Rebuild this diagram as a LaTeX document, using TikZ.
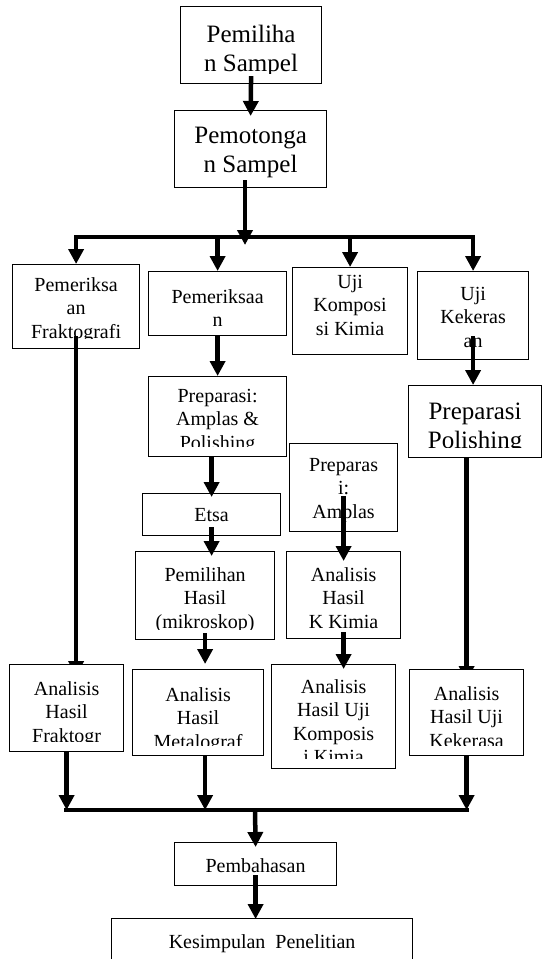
\documentclass[tikz,border=0pt]{standalone}
\usepackage{fontspec}
\setmainfont{Liberation Serif}
\usetikzlibrary{arrows.meta}
\pgfdeclarelayer{front}
\pgfsetlayers{main,front}

\begin{document}
\begin{tikzpicture}[x = 1pt, y = -1pt,
        box/.style = {draw, fill = white, line width = 1.2pt, inner sep = 0pt, anchor = north west},
        big/.style = {font = \fontsize{25}{29}\selectfont},
        small/.style = {font = \fontsize{20}{23.5}\selectfont},
        boxtext/.style n args = {3}{path picture = {
            \clip ([yshift = 10pt]path picture bounding box.south west) rectangle (path picture bounding box.north east);
            \node[#1, anchor = north, align = center, inner sep = 0pt, minimum width = 0pt, minimum height = 0pt]
                at ([yshift = -#2pt]path picture bounding box.north) {#3};}},
        arr/.style = {line width = 4.5pt, -{Triangle[width = 15pt, length = 15pt]}},
        bar/.style = {line width = 4.5pt, line cap = rect}]
            \useasboundingbox (0,0) rectangle (542,959);
            \clip (0,0) rectangle (542,959);

            % top
            \node[box, minimum width = 141pt, minimum height = 77pt, boxtext = {big}{18}{Pemiliha\\n Sampel}] (pilih) at (180,6) {};
            \node[box, minimum width = 152pt, minimum height = 77pt, boxtext = {big}{16}{Pemotonga\\n Sampel}] (potong) at (174,110) {};
            \coordinate (split) at (245,237);

            % four branches
            \node[box, minimum width = 127pt, minimum height = 84pt, boxtext = {small}{12}{Pemeriksa\\an\\Fraktografi}] (frakto) at (12,264) {};
            \node[box, minimum width = 138pt, minimum height = 64pt, boxtext = {small}{17}{Pemeriksaa\\n}] (periksa) at (148,271) {};
            \node[box, minimum width = 115pt, minimum height = 87pt, boxtext = {small}{7}{Uji\\Komposi\\si Kimia}] (komp) at (292,267) {};
            \node[box, minimum width = 111pt, minimum height = 88pt, boxtext = {small}{15}{Uji\\Kekeras\\an}] (keras) at (417,271) {};

            \node[box, minimum width = 138pt, minimum height = 80pt, boxtext = {small}{12}{Preparasi:\\Amplas \&\\Polishing}] (prepap) at (148,376) {};
            \node[box, minimum width = 133pt, minimum height = 72pt, boxtext = {big}{17}{Preparasi\\Polishing}] (preppol) at (408,385) {};
            \node[box, minimum width = 138pt, minimum height = 42pt, boxtext = {small}{14}{Etsa}] (etsa) at (142,493) {};
            \node[box, minimum width = 139pt, minimum height = 88pt, boxtext = {small}{15}{Pemilihan\\Hasil\\(mikroskop)}] (pilihhasil) at (135,551) {};
            \node[box, minimum width = 108pt, minimum height = 88pt, boxtext = {small}{14}{Preparas\\i:\\Amplas}] (prepaml) at (289,443) {};
            \node[box, minimum width = 114pt, minimum height = 87pt, boxtext = {small}{15}{Analisis\\Hasil\\K Kimia}] (kkimia) at (286,551) {};

            % analysis
            \begin{pgfonlayer}{front}
                \node[box, minimum width = 114pt, minimum height = 87pt, boxtext = {small}{16}{Analisis\\Hasil\\Fraktogr}] (anafrakto) at (9,664) {};
                \node[box, minimum width = 114pt, minimum height = 86pt, boxtext = {small}{16}{Analisis\\Hasil Uji\\Kekerasa}] (anakeras) at (409,669) {};
            \end{pgfonlayer}
            \node[box, minimum width = 131pt, minimum height = 86pt, boxtext = {small}{17}{Analisis\\Hasil\\Metalograf}] (anameta) at (132,669) {};
            \node[box, minimum width = 124pt, minimum height = 104pt, boxtext = {small}{14}{Analisis\\Hasil Uji\\Komposis\\i Kimia}] (anakomp) at (271,664) {};
            \coordinate (join) at (255,810);

            \node[box, minimum width = 162pt, minimum height = 43pt, boxtext = {small}{15}{Pembahasan}] (bahas) at (174,842) {};
            \node[box, minimum width = 301pt, minimum height = 60pt, boxtext = {small}{15}{Kesimpulan~~Penelitian}] (simpul) at (111,918) {};

            % connectors
            \draw[arr] ([yshift = 8pt]pilih.south) -- ([yshift = -6pt]potong.north);
            \draw[arr] ([yshift = 8pt]potong.south -| split) -- ([yshift = -8pt]split);
            \draw[bar] (frakto.north |- split) -- (keras.north |- split);
            \draw[arr] (frakto.north |- split) -- (frakto.north);
            \draw[arr] (periksa.north |- split) -- (periksa.north);
            \draw[arr] (komp.north |- split) -- (komp.north);
            \draw[arr] (keras.north |- split) -- (keras.north);

            \draw[arr] ([yshift = 13pt]frakto.south) -- ([yshift = -12pt]frakto.south |- anafrakto.north);
            \draw[arr] (periksa.south) -- (periksa.south |- prepap.north);
            \draw[arr] ([yshift = 24pt]keras.south) -- (keras.south |- preppol.north);
            \draw[arr] (prepap.south -| etsa.north) -- ([yshift = -4pt]etsa.north);
            \draw[arr] ([yshift = 9pt]etsa.south) -- ([yshift = -5pt]etsa.south |- pilihhasil.north);
            \draw[arr] ([yshift = 36pt]prepaml.south) -- ([yshift = -10pt]prepaml.south |- kkimia.north);
            \draw[arr] (preppol.south -| anakeras.north) -- ([yshift = -12pt]anakeras.north);
            \draw[arr] ([yshift = 7pt]pilihhasil.south) -- ([yshift = 5pt]pilihhasil.south |- anameta.north);
            \draw[arr] ([yshift = 7pt]kkimia.south) -- ([yshift = -5pt]kkimia.south |- anakomp.north);

            \draw[bar] (anafrakto.south |- join) -- (anakeras.south |- join);
            \draw[arr] (anafrakto.south) -- (anafrakto.south |- join);
            \draw[arr] (anameta.south -| pilihhasil.south) -- (pilihhasil.south |- join);
            \draw[arr] (anakeras.south) -- (anakeras.south |- join);
            \draw[arr] (join) -- ([yshift = -5pt]bahas.north);
            \draw[arr] ([yshift = 11pt]bahas.south) -- ([yshift = -1pt]simpul.north -| bahas.south);
        \end{tikzpicture}
\end{document}
